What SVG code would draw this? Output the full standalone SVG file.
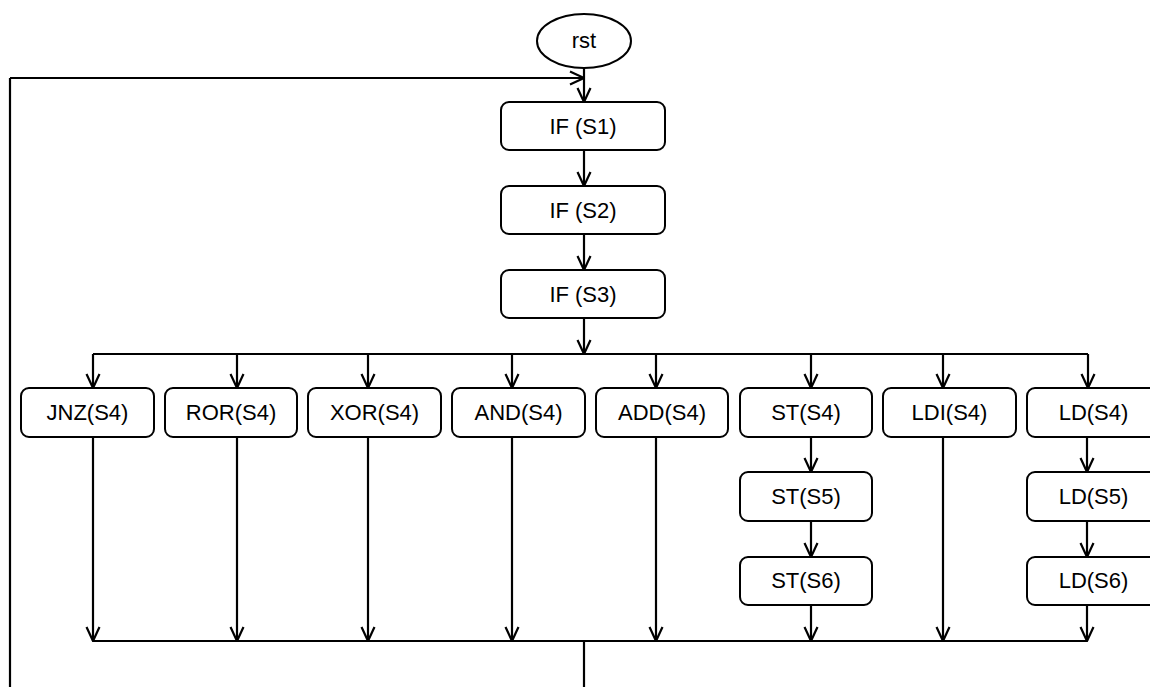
<svg xmlns="http://www.w3.org/2000/svg" width="1150" height="687" viewBox="0 0 1150 687">
<defs>
<marker id="arr" viewBox="0 0 16 16" refX="15" refY="8" markerWidth="16" markerHeight="16" markerUnits="userSpaceOnUse" orient="auto">
<path d="M1,1.5 L15,8 L1,14.5" fill="none" stroke="#000" stroke-width="2.2"/>
</marker>
<style>
.box{fill:#fff;stroke:#000;stroke-width:2}
.t{font-family:"Liberation Sans",Arial,sans-serif;font-size:22px;fill:#000;text-anchor:middle;dominant-baseline:central}
.c{fill:none;stroke:#000;stroke-width:2.2}
.a{marker-end:url(#arr)}
</style>
</defs>
<rect width="1150" height="687" fill="#fff"/>
<g id="connectors">
<path class="c" d="M10,687 V78"/>
<path class="c a" d="M10,78 H584"/>
<path class="c a" d="M584,67 V102"/>
<path class="c a" d="M584,150 V186"/>
<path class="c a" d="M584,234 V270"/>
<path class="c a" d="M584,318 V354"/>
<path class="c" d="M93,354 H1088"/>
<path class="c a" d="M93,354 V388"/>
<path class="c a" d="M237,354 V388"/>
<path class="c a" d="M368,354 V388"/>
<path class="c a" d="M512,354 V388"/>
<path class="c a" d="M656,354 V388"/>
<path class="c a" d="M811,354 V388"/>
<path class="c a" d="M943,354 V388"/>
<path class="c a" d="M1088,354 V388"/>
<path class="c a" d="M811,437 V472"/>
<path class="c a" d="M811,521 V557"/>
<path class="c a" d="M1087,437 V472"/>
<path class="c a" d="M1087,521 V557"/>
<path class="c a" d="M93,437 V641"/>
<path class="c a" d="M237,437 V641"/>
<path class="c a" d="M368,437 V641"/>
<path class="c a" d="M512,437 V641"/>
<path class="c a" d="M656,437 V641"/>
<path class="c a" d="M811,605 V641"/>
<path class="c a" d="M943,437 V641"/>
<path class="c a" d="M1087,605 V641"/>
<path class="c" d="M93,641 H1087"/>
<path class="c" d="M584,641 V687"/>
</g>
<g id="rst"><ellipse class="box" cx="584" cy="41" rx="47" ry="27"/><text class="t" x="584" y="40">rst</text></g>
<g id="if1"><rect class="box" x="501" y="102" width="164" height="48" rx="8"/><text class="t" x="583" y="126">IF (S1)</text></g>
<g id="if2"><rect class="box" x="501" y="186" width="164" height="48" rx="8"/><text class="t" x="583" y="210">IF (S2)</text></g>
<g id="if3"><rect class="box" x="501" y="270" width="164" height="48" rx="8"/><text class="t" x="583" y="294">IF (S3)</text></g>
<g id="jnz"><rect class="box" x="21" y="388" width="133" height="49" rx="8"/><text class="t" x="87.5" y="412">JNZ(S4)</text></g>
<g id="ror"><rect class="box" x="165" y="388" width="132" height="49" rx="8"/><text class="t" x="231" y="412">ROR(S4)</text></g>
<g id="xor"><rect class="box" x="308" y="388" width="133" height="49" rx="8"/><text class="t" x="374.5" y="412">XOR(S4)</text></g>
<g id="and"><rect class="box" x="452" y="388" width="133" height="49" rx="8"/><text class="t" x="518.5" y="412">AND(S4)</text></g>
<g id="add"><rect class="box" x="596" y="388" width="132" height="49" rx="8"/><text class="t" x="662" y="412">ADD(S4)</text></g>
<g id="st4"><rect class="box" x="740" y="388" width="132" height="49" rx="8"/><text class="t" x="806" y="412">ST(S4)</text></g>
<g id="ldi"><rect class="box" x="883" y="388" width="133" height="49" rx="8"/><text class="t" x="949.5" y="412">LDI(S4)</text></g>
<g id="ld4"><rect class="box" x="1027" y="388" width="133" height="49" rx="8"/><text class="t" x="1093.5" y="412">LD(S4)</text></g>
<g id="st5"><rect class="box" x="740" y="472" width="132" height="49" rx="8"/><text class="t" x="806" y="496">ST(S5)</text></g>
<g id="st6"><rect class="box" x="740" y="557" width="132" height="48" rx="8"/><text class="t" x="806" y="580">ST(S6)</text></g>
<g id="ld5"><rect class="box" x="1027" y="472" width="133" height="49" rx="8"/><text class="t" x="1093.5" y="496">LD(S5)</text></g>
<g id="ld6"><rect class="box" x="1027" y="557" width="133" height="48" rx="8"/><text class="t" x="1093.5" y="580">LD(S6)</text></g>
</svg>
